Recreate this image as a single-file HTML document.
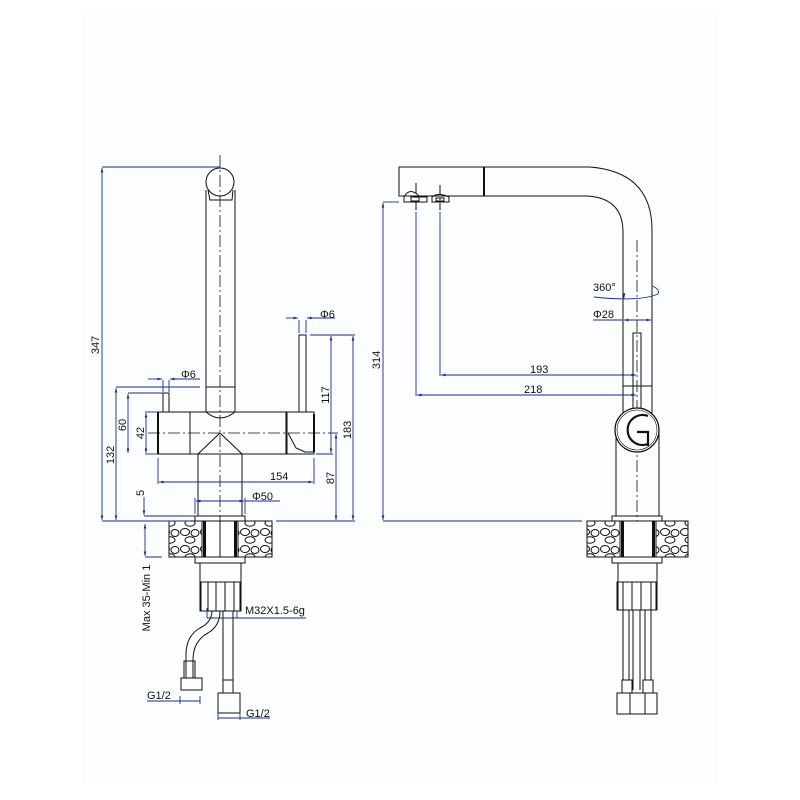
<!DOCTYPE html>
<html><head><meta charset="utf-8"><style>
html,body{margin:0;padding:0;background:#fff}
svg{display:block}
text{font-family:"Liberation Sans",sans-serif;font-size:11px;fill:#111}
.k{stroke:#111;stroke-width:1;fill:none}
.kt{stroke:#111;stroke-width:2;fill:none}
.d{stroke:#1a2a8a;stroke-width:0.9;fill:none}
.c{stroke:#111;stroke-width:0.8;fill:none;stroke-dasharray:12 3 2 3}
</style></head><body>
<svg width="800" height="800" viewBox="0 0 800 800" xmlns="http://www.w3.org/2000/svg">
<defs>
<marker id="a" viewBox="0 0 10 10" refX="10" refY="5" markerWidth="7" markerHeight="5" orient="auto-start-reverse"><path d="M0,2 L10,5 L0,8z" fill="#1a2a8a"/></marker>
<pattern id="st" width="20" height="17" patternUnits="userSpaceOnUse">
<rect width="20" height="17" fill="#fff"/>
<ellipse cx="5" cy="5" rx="4.5" ry="3.5" class="k" stroke-width="0.6"/>
<ellipse cx="15" cy="6" rx="4" ry="3.5" class="k" stroke-width="0.6"/>
<ellipse cx="10" cy="13" rx="5" ry="3.2" class="k" stroke-width="0.6"/>
</pattern>
</defs>
<rect x="82" y="14" width="636" height="771" fill="#fbfdfe"/>

<!-- LEFT VIEW -->
<line class="c" x1="220" y1="155" x2="220" y2="545"/>
<line class="c" x1="148" y1="433" x2="328" y2="433"/>
<circle class="k" cx="220" cy="182" r="14"/>
<path class="k" d="M208,190 L210,200 L232,200 L233,190"/>
<path class="k" d="M206,190 L206,412 M235,190 L235,412"/>
<line class="k" x1="206" y1="387" x2="235" y2="387"/>
<path class="k" d="M206,412 Q220,424 235,412"/>
<rect class="k" x="158" y="412" width="128" height="42"/>
<line class="kt" x1="158" y1="412" x2="158" y2="454"/>
<line class="k" x1="190" y1="412" x2="190" y2="454"/>
<rect class="k" x="287" y="412" width="27" height="42"/>
<line class="kt" x1="314" y1="414" x2="314" y2="452"/>
<path class="k" d="M288,433 L296,448 L305,452 L314,452"/>
<rect class="k" x="299" y="335" width="7" height="77"/>
<rect class="k" x="163" y="393" width="6" height="19"/>
<path class="k" d="M198,454 L220,433 L242,454 M198,454 L198,516 M242,454 L242,516"/>
<rect class="k" x="195" y="516" width="50" height="5"/>
<rect x="169" y="521" width="103" height="36" fill="url(#st)" stroke="#111"/>
<rect x="202" y="521" width="36" height="36" fill="#fff" stroke="#111"/>
<rect x="203" y="521" width="3" height="36" fill="#111"/>
<rect x="234" y="521" width="3" height="36" fill="#111"/>
<line class="k" x1="220" y1="521" x2="220" y2="557"/>
<rect class="k" x="195" y="557" width="50" height="6"/>
<rect class="k" x="200" y="563" width="41" height="19"/>
<rect class="k" x="200" y="582" width="41" height="29"/>
<rect class="k" x="201" y="582" width="7" height="29"/><rect class="k" x="216" y="582" width="9" height="29"/><rect class="k" x="234" y="582" width="6" height="29"/>
<path class="k" d="M223,611 L223,686 M233,611 L233,686"/>
<rect class="k" x="223" y="680" width="10" height="13"/>
<rect class="k" x="218" y="693" width="22" height="20"/>
<path class="k" d="M212,611 Q212,622 200,628 Q186,636 186,655 L186,678 M220,611 Q220,626 208,633 Q193,641 193,660 L193,678"/>
<rect class="k" x="184" y="661" width="11" height="17"/>
<rect class="k" x="181" y="678" width="21" height="12"/>
<line class="d" x1="102" y1="167" x2="220" y2="167"/>
<line class="d" x1="102" y1="521" x2="190" y2="521"/>
<line class="d" x1="102" y1="168" x2="102" y2="520" marker-start="url(#a)" marker-end="url(#a)"/>
<text transform="translate(99,345) rotate(-90)" text-anchor="middle">347</text>
<line class="d" x1="116" y1="387" x2="200" y2="387"/>
<line class="d" x1="116" y1="388" x2="116" y2="520" marker-start="url(#a)" marker-end="url(#a)"/>
<text transform="translate(114,455) rotate(-90)" text-anchor="middle">132</text>
<line class="d" x1="128" y1="393" x2="163" y2="393"/>
<line class="d" x1="128" y1="394" x2="128" y2="453" marker-start="url(#a)" marker-end="url(#a)"/>
<text transform="translate(126,425) rotate(-90)" text-anchor="middle">60</text>
<line class="d" x1="145" y1="412" x2="157" y2="412"/>
<line class="d" x1="145" y1="454" x2="157" y2="454"/>
<line class="d" x1="146" y1="413" x2="146" y2="453" marker-start="url(#a)" marker-end="url(#a)"/>
<text transform="translate(144,433) rotate(-90)" text-anchor="middle">42</text>
<line class="d" x1="148" y1="379" x2="162" y2="379" marker-end="url(#a)"/>
<line class="d" x1="170" y1="379" x2="200" y2="379" marker-start="url(#a)"/>
<line class="d" x1="163" y1="380" x2="163" y2="392"/><line class="d" x1="169" y1="380" x2="169" y2="392"/>
<text x="181" y="378">Φ6</text>
<line class="d" x1="286" y1="318" x2="298" y2="318" marker-end="url(#a)"/>
<line class="d" x1="307" y1="318" x2="335" y2="318" marker-start="url(#a)"/>
<line class="d" x1="299" y1="320" x2="299" y2="333"/><line class="d" x1="306" y1="320" x2="306" y2="333"/>
<text x="320" y="318">Φ6</text>
<line class="d" x1="310" y1="335" x2="355" y2="335"/>
<line class="d" x1="331" y1="336" x2="331" y2="453" marker-start="url(#a)" marker-end="url(#a)"/>
<line class="d" x1="316" y1="454" x2="333" y2="454"/>
<text transform="translate(329,395) rotate(-90)" text-anchor="middle">117</text>
<line class="d" x1="353" y1="336" x2="353" y2="520" marker-start="url(#a)" marker-end="url(#a)"/>
<text transform="translate(351,430) rotate(-90)" text-anchor="middle">183</text>
<line class="d" x1="328" y1="433" x2="338" y2="433"/>
<line class="d" x1="336" y1="434" x2="336" y2="520" marker-start="url(#a)" marker-end="url(#a)"/>
<text transform="translate(334,478) rotate(-90)" text-anchor="middle">87</text>
<line class="d" x1="276" y1="521" x2="355" y2="521"/>
<line class="d" x1="158" y1="458" x2="158" y2="484"/><line class="d" x1="314" y1="458" x2="314" y2="484"/>
<line class="d" x1="159" y1="482" x2="313" y2="482" marker-start="url(#a)" marker-end="url(#a)"/>
<text x="270" y="480">154</text>
<line class="d" x1="195" y1="498" x2="195" y2="514"/><line class="d" x1="245" y1="498" x2="245" y2="514"/>
<line class="d" x1="196" y1="501" x2="244" y2="501" marker-start="url(#a)" marker-end="url(#a)"/>
<line class="d" x1="245" y1="501" x2="280" y2="501"/>
<text x="252" y="500">Φ50</text>
<line class="d" x1="144" y1="497" x2="144" y2="515" marker-end="url(#a)"/>
<line class="d" x1="144" y1="516" x2="195" y2="516"/>
<text transform="translate(144,496) rotate(-90)" text-anchor="start">5</text>
<line class="d" x1="145" y1="524" x2="145" y2="556" marker-start="url(#a)" marker-end="url(#a)"/>
<line class="d" x1="145" y1="557" x2="162" y2="557"/>
<line class="d" x1="140" y1="521" x2="160" y2="521"/>
<text transform="translate(150,598) rotate(-90)" text-anchor="middle">Max 35-Min 1</text>
<line class="d" x1="207" y1="618" x2="306" y2="618"/>
<line class="d" x1="207" y1="608" x2="207" y2="618"/><line class="d" x1="237" y1="611" x2="237" y2="618"/>
<text x="245" y="614">M32X1.5-6g</text>
<line class="d" x1="147" y1="701" x2="200" y2="701"/>
<line class="d" x1="180" y1="696" x2="180" y2="704"/><line class="d" x1="200" y1="696" x2="200" y2="704"/>
<text x="147" y="699">G1/2</text>
<line class="d" x1="218" y1="718" x2="270" y2="718"/>
<line class="d" x1="218" y1="713" x2="218" y2="720"/><line class="d" x1="240" y1="713" x2="240" y2="720"/>
<text x="246" y="717">G1/2</text>

<!-- RIGHT VIEW -->
<line class="c" x1="637" y1="240" x2="637" y2="560"/>
<path class="k" d="M484,167 L399,167 L399,196 L484,196"/>
<line class="kt" x1="484" y1="167" x2="484" y2="196"/>
<path class="k" d="M484,167 L590,167 Q652,172 652,230 L652,415 M484,196 L587,196 Q623,198 623,232 L623,415"/>
<line class="k" x1="623" y1="386" x2="652" y2="386"/>
<path class="k" d="M404,202 L404,197 Q410,186 420,197 L427,197 L427,202 Z M432,202 L432,197 Q438,192 449,197 L449,202 Z"/>
<rect class="k" x="411" y="197" width="8" height="4"/><rect class="k" x="436" y="198" width="8" height="3"/>
<line class="k" x1="416" y1="183" x2="416" y2="210" stroke-dasharray="10 3 2 3"/>
<line class="k" x1="440" y1="185" x2="440" y2="210" stroke-dasharray="10 3 2 3"/>
<path class="k" d="M616,430 L616,516 M659,430 L659,516"/>
<rect class="k" x="633" y="333" width="8" height="80"/>
<circle cx="637" cy="430" r="22" fill="#fff" stroke="#111" stroke-width="1.2"/>
<circle cx="637" cy="430" r="20" fill="none" stroke="#111" stroke-width="0.6"/>
<path d="M648,416 A15,15 0 1 0 648,444 L648,446 M637,432 L648,432 L648,446" fill="none" stroke="#111" stroke-width="2.2"/>
<rect class="k" x="612" y="516" width="50" height="5"/>
<rect x="587" y="521" width="101" height="36" fill="url(#st)" stroke="#111"/>
<rect x="620" y="521" width="36" height="36" fill="#fff" stroke="#111"/>
<rect x="621" y="521" width="3" height="36" fill="#111"/><rect x="652" y="521" width="3" height="36" fill="#111"/>
<rect class="k" x="612" y="557" width="50" height="6"/>
<rect class="k" x="618" y="563" width="39" height="19"/>
<rect class="k" x="617" y="582" width="40" height="28"/>
<rect class="k" x="618" y="582" width="5" height="28"/><rect class="k" x="632" y="582" width="9" height="28"/><rect class="k" x="651" y="582" width="5" height="28"/>
<path class="k" d="M623,610 L623,680 M629,610 L629,680 M645,610 L645,680 M651,610 L651,680 M633,610 L633,690 M640,610 L640,690"/>
<rect class="k" x="622" y="680" width="10" height="13"/><rect class="k" x="643" y="680" width="10" height="13"/>
<rect class="k" x="617" y="693" width="40" height="21"/>
<line class="k" x1="630" y1="693" x2="630" y2="714"/><line class="k" x1="645" y1="693" x2="645" y2="714"/>
<line class="d" x1="383" y1="202" x2="399" y2="202"/>
<line class="d" x1="383" y1="203" x2="383" y2="520" marker-start="url(#a)" marker-end="url(#a)"/>
<line class="d" x1="383" y1="521" x2="582" y2="521"/>
<text transform="translate(380,360) rotate(-90)" text-anchor="middle">314</text>
<line class="d" x1="416" y1="212" x2="416" y2="396"/>
<line class="d" x1="440" y1="212" x2="440" y2="376"/>
<line class="d" x1="441" y1="375" x2="636" y2="375" marker-start="url(#a)" marker-end="url(#a)"/>
<text x="530" y="373">193</text>
<line class="d" x1="417" y1="395" x2="636" y2="395" marker-start="url(#a)" marker-end="url(#a)"/>
<text x="524" y="393">218</text>
<text x="593" y="291">360°</text>
<path class="d" d="M594,297 Q640,302 658,294 Q660,290 653,286"/>
<line class="d" x1="624" y1="293" x2="624" y2="298" marker-end="url(#a)"/>
<text x="593" y="318">Φ28</text>
<line class="d" x1="593" y1="320" x2="623" y2="320"/>
<line class="d" x1="624" y1="320" x2="651" y2="320" marker-start="url(#a)" marker-end="url(#a)"/>
</svg>
</body></html>
